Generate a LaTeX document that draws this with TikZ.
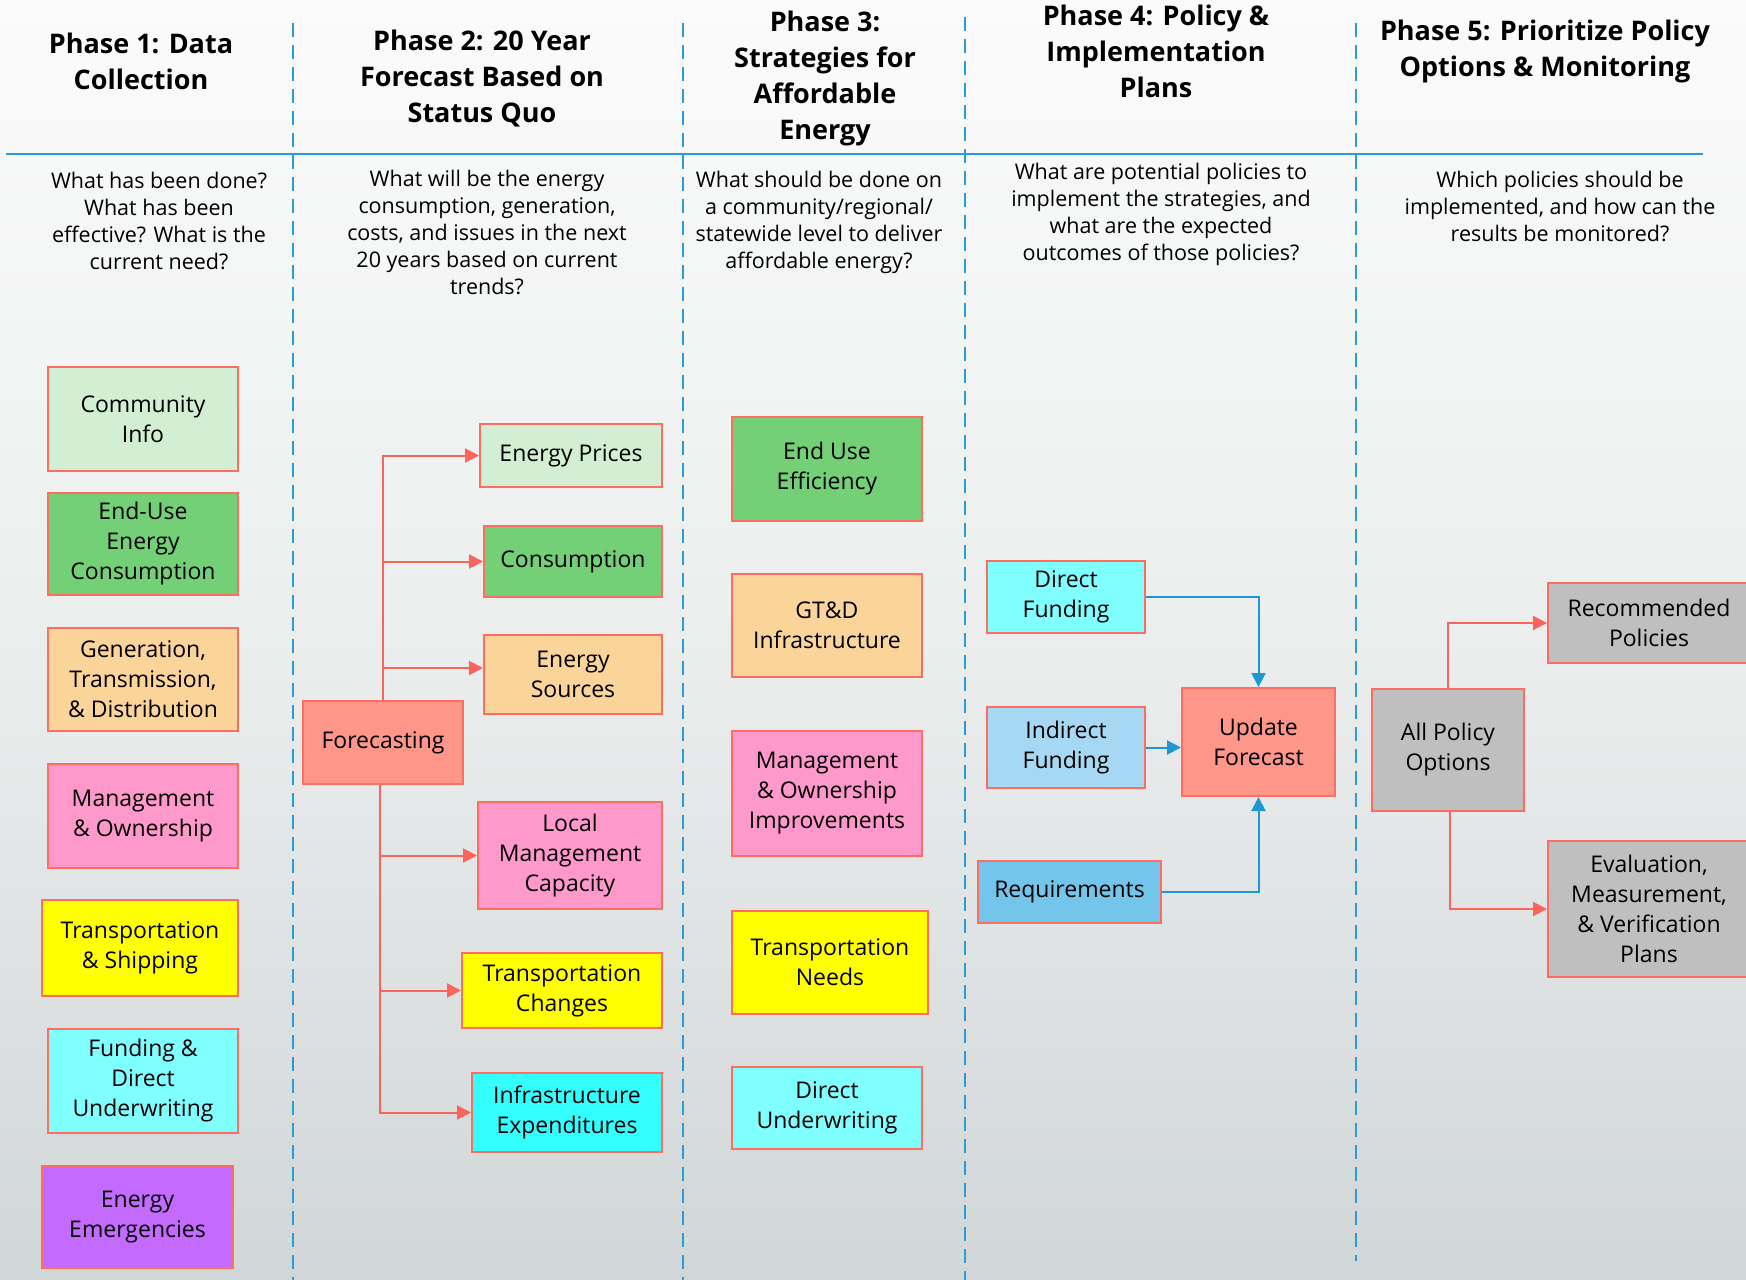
\documentclass[tikz,border=0pt]{standalone}
\usepackage{fontspec}
\setmainfont{Open Sans}
\usetikzlibrary{arrows.meta}
\definecolor{cLgreen}{RGB}{211,239,211}
\definecolor{cGreen}{RGB}{115,208,119}
\definecolor{cOrange}{RGB}{251,212,154}
\definecolor{cPink}{RGB}{255,153,204}
\definecolor{cYellow}{RGB}{255,255,0}
\definecolor{cLcyan}{RGB}{127,255,255}
\definecolor{cCyan}{RGB}{51,255,255}
\definecolor{cPurple}{RGB}{196,106,255}
\definecolor{cSalmon}{RGB}{255,150,138}
\definecolor{cLblue}{RGB}{166,216,244}
\definecolor{cMblue}{RGB}{115,197,236}
\definecolor{cGray}{RGB}{191,191,191}
\definecolor{cBorder}{RGB}{255,108,96}
\definecolor{cArrRed}{RGB}{250,100,90}
\definecolor{cArrBlue}{RGB}{30,150,214}
\definecolor{cSep}{RGB}{43,155,217}
\definecolor{bgTop}{RGB}{251,251,251}
\definecolor{bgMid}{RGB}{236,238,238}
\definecolor{bgBot}{RGB}{209,214,215}
\newcommand\bxfont{\fontsize{23}{30}\selectfont}
\newcommand\hdfont{\fontsize{27}{36}\selectfont\bfseries}
\newcommand\qsfont{\fontsize{21.5}{27}\selectfont}
\tikzset{
  box/.style={draw=cBorder, line width=2pt, inner sep=0pt, align=center, font=\bxfont, text=black},
  rarrow/.style={draw=cArrRed, line width=2pt, -{Triangle[length=14pt,width=14pt]}},
  barrow/.style={draw=cArrBlue, line width=2pt, -{Triangle[length=14pt,width=14pt]}},
  sepline/.style={draw=cSep, line width=2.5pt, dash pattern=on 14pt off 8pt},
  hdr/.style={align=center, font=\hdfont, text=black, inner sep=0pt},
  qst/.style={align=center, font=\qsfont, text=black, inner sep=0pt},
}
\begin{document}
\begin{tikzpicture}[x=1pt,y=-1pt]
\useasboundingbox (0,0) rectangle (1746,1280);
% background
\shade[top color=bgTop, bottom color=bgMid] (0,0) rectangle (1746,640);
\shade[top color=bgMid, bottom color=bgBot] (0,640) rectangle (1746,1280);
% separators
\coordinate (s1t) at (293,23);  \coordinate (s1b) at (293,1280);
\coordinate (s2t) at (683,23);  \coordinate (s2b) at (683,1280);
\coordinate (s3t) at (965,17);  \coordinate (s3b) at (965,1280);
\coordinate (s4t) at (1356,23); \coordinate (s4b) at (1356,1261);
\coordinate (hl) at (6,154);    \coordinate (hr) at (1703,154);
\draw[sepline] (s1t) -- (s1b);
\draw[sepline] (s2t) -- (s2b);
\draw[sepline] (s3t) -- (s3b);
\draw[sepline] (s4t) -- (s4b);
\draw[draw=cSep, line width=2.5pt] (hl) -- (hr);
% headers
\node[hdr] (h1) at (141,61.5) {Phase 1: Data\\Collection};
\node[hdr] (h2) at (482,79) {Phase 2: 20 Year\\Forecast Based on\\Status Quo};
\node[hdr] (h3) at (825,78.5) {Phase 3:\\Strategies for\\Affordable\\Energy};
\node[hdr] (h4) at (1156,51) {Phase 4: Policy \&\\Implementation\\Plans};
\node[hdr] (h5) at (1545,51.5) {Phase 5: Prioritize Policy\\Options \& Monitoring};
% questions
\node[qst] (q1) at (159,221) {What has been done?\\What has been\\effective? What is the\\current need?};
\node[qst] (q2) at (487,232) {What will be the energy\\consumption, generation,\\costs, and issues in the next\\20 years based on current\\trends?};
\node[qst] (q3) at (819,222) {What should be done on\\a community/regional/\\statewide level to deliver\\affordable energy?};
\node[qst] (q4) at (1161,214.5) {What are potential policies to\\implement the strategies, and\\what are the expected\\outcomes of those policies?};
\node[qst] (q5) at (1560,206.5) {Which policies should be\\implemented, and how can the\\results be monitored?};
% phase 1
\node[box, fill=cLgreen, minimum width=190pt, minimum height=104pt] (ci) at (143,419) {Community\\Info};
\node[box, fill=cGreen, minimum width=190pt, minimum height=102pt] (eu) at (143,544) {End-Use\\Energy\\Consumption};
\node[box, fill=cOrange, minimum width=190pt, minimum height=103pt] (gen) at (143,679.5) {Generation,\\Transmission,\\\& Distribution};
\node[box, fill=cPink, minimum width=190pt, minimum height=104pt] (mo) at (143,816) {Management\\\& Ownership};
\node[box, fill=cYellow, minimum width=196pt, minimum height=96pt] (ts) at (140,948) {Transportation\\\& Shipping};
\node[box, fill=cLcyan, minimum width=190pt, minimum height=104pt] (fd) at (143,1081) {Funding \&\\Direct\\Underwriting};
\node[box, fill=cPurple, minimum width=191pt, minimum height=102pt] (ee) at (137.5,1217) {Energy\\Emergencies};
% phase 2
\node[box, fill=cSalmon, minimum width=160pt, minimum height=83pt] (fc) at (383,742.5) {Forecasting};
\node[box, fill=cLgreen, minimum width=182pt, minimum height=63pt] (ep) at (571,455.5) {Energy Prices};
\node[box, fill=cGreen, minimum width=178pt, minimum height=71pt] (co) at (573,561.5) {Consumption};
\node[box, fill=cOrange, minimum width=178pt, minimum height=79pt] (es) at (573,674.5) {Energy\\Sources};
\node[box, fill=cPink, minimum width=184pt, minimum height=107pt] (lm) at (570,855.5) {Local\\Management\\Capacity};
\node[box, fill=cYellow, minimum width=200pt, minimum height=75pt] (tc) at (562,990.5) {Transportation\\Changes};
\node[box, fill=cCyan, minimum width=190pt, minimum height=79pt] (ie) at (567,1112.5) {Infrastructure\\Expenditures};
\draw[rarrow] (fc.north) |- (ep.west);
\draw[rarrow] (fc.north) |- (co.west);
\draw[rarrow] (fc.north) |- ([yshift=6.5pt]es.west);
\draw[rarrow] ([xshift=-3pt]fc.south) |- (lm.west);
\draw[rarrow] ([xshift=-3pt]fc.south) |- (tc.west);
\draw[rarrow] ([xshift=-3pt]fc.south) |- (ie.west);
% phase 3
\node[box, fill=cGreen, minimum width=190pt, minimum height=104pt] (eue) at (827,469) {End Use\\Efficiency};
\node[box, fill=cOrange, minimum width=190pt, minimum height=103pt] (gtd) at (827,625.5) {GT\&D\\Infrastructure};
\node[box, fill=cPink, minimum width=190pt, minimum height=125pt] (moi) at (827,793.5) {Management\\\& Ownership\\Improvements};
\node[box, fill=cYellow, minimum width=196pt, minimum height=103pt] (tn) at (830,962.5) {Transportation\\Needs};
\node[box, fill=cLcyan, minimum width=190pt, minimum height=82pt] (du) at (827,1108) {Direct\\Underwriting};
% phase 4
\node[box, fill=cLcyan, minimum width=158pt, minimum height=72pt] (df) at (1066,597) {Direct\\Funding};
\node[box, fill=cLblue, minimum width=158pt, minimum height=81pt] (inf) at (1066,747.5) {Indirect\\Funding};
\node[box, fill=cMblue, minimum width=183pt, minimum height=62pt] (req) at (1069.5,892) {Requirements};
\node[box, fill=cSalmon, minimum width=153pt, minimum height=108pt] (uf) at (1258.5,742) {Update\\Forecast};
\draw[barrow] (df.east) -| (uf.north);
\draw[barrow] (inf.east) -- (inf.east -| uf.west);
\draw[barrow] (req.east) -| (uf.south);
% phase 5
\node[box, fill=cGray, minimum width=152pt, minimum height=122pt] (apo) at (1448,750) {All Policy\\Options};
\node[box, fill=cGray, minimum width=202pt, minimum height=80pt] (rp) at (1649,623) {Recommended\\Policies};
\node[box, fill=cGray, minimum width=202pt, minimum height=136pt] (ev) at (1649,909) {Evaluation,\\Measurement,\\\& Verification\\Plans};
\draw[rarrow] (apo.north) |- (rp.west);
\draw[rarrow] ([xshift=2pt]apo.south) |- (ev.west);
\end{tikzpicture}
\end{document}
